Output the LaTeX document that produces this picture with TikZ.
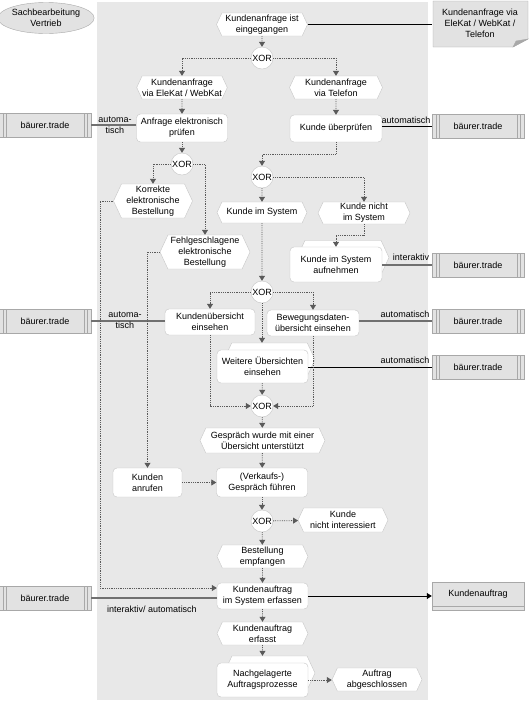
\documentclass[tikz,border=0pt]{standalone}
\usepackage{fontspec}
\setmainfont{Liberation Sans}
\usetikzlibrary{arrows.meta,shapes.geometric,shapes.symbols,calc}

\definecolor{laneGray}{HTML}{E8E8E8}
\definecolor{boxGray}{HTML}{E2E2E2}
\definecolor{rimGray}{HTML}{C6C6C6}
\definecolor{sysRim}{HTML}{A8A8A8}
\definecolor{dotGray}{HTML}{5A5A5A}
\definecolor{assocGray}{HTML}{707070}

\tikzset{
  ev/.style={signal, signal to=east and west, signal pointer angle=130, draw=rimGray,
    fill=white, align=center, inner sep=0pt, minimum width=91pt, minimum height=23pt},
  evbg/.style={ev, minimum height=34pt},
  fn/.style={rectangle, rounded corners=4pt, draw=rimGray, fill=white, align=center,
    inner sep=0pt, minimum width=91pt, minimum height=27pt},
  xor/.style={circle, draw=rimGray, fill=white, inner sep=0pt, minimum size=22pt},
  sysbox/.style={rectangle, draw=sysRim, fill=boxGray, minimum width=92pt, minimum height=24pt,
    path picture={
      \foreach \dx in {4,7}{
        \draw[sysRim] ([xshift=\dx pt]path picture bounding box.north west) -- ([xshift=\dx pt]path picture bounding box.south west);
        \draw[sysRim] ([xshift=-\dx pt]path picture bounding box.north east) -- ([xshift=-\dx pt]path picture bounding box.south east);
      }}},
  lbl/.style={inner sep=0pt, align=center},
  flow/.style={densely dotted, draw=dotGray, line width=0.8pt, -{Triangle[length=5pt,width=6pt]}},
  linkG/.style={draw=assocGray, line width=1.5pt},
  linkB/.style={draw=black, line width=0.6pt},
}

\begin{document}
\begin{tikzpicture}[x=1pt, y=-1pt, font=\fontsize{9}{11}\selectfont]
  \useasboundingbox (0,0) rectangle (530,705);

  %%%%% LANE %%%%%
  \fill[laneGray] (97,2) rectangle (428,700);

  \node[ellipse, draw=sysRim, fill=boxGray, minimum width=90pt, minimum height=31pt, inner sep=0pt, align=center]
    (lane) at (46,18) {Sachbearbeitung\\Vertrieb};

  % input document
  \fill[boxGray] (433,1) -- (528,1) -- (528,39) -- (513,47) -- (433,47) -- cycle;
  \draw[sysRim] (433,1) -- (528,1) -- (528,39) -- (513,47) -- (433,47) -- cycle;
  \filldraw[fill=sysRim, draw=sysRim] (528,39) -- (516,41) -- (513,47) -- cycle;
  \node[lbl, minimum width=95pt, minimum height=46pt] (doc) at (480,23) {Kundenanfrage via\\EleKat / WebKat /\\Telefon};

  %%%%% START %%%%%
  \node[ev] (evStart) at (262,24.5) {Kundenanfrage ist\\eingegangen};
  \node[xor] (xor1) at (262,58) {XOR};

  \node[ev, minimum width=89pt] (evEle) at (182,87.5) {Kundenanfrage\\via EleKat / WebKat};
  \node[ev, minimum width=93pt] (evTel) at (336,87.5) {Kundenanfrage\\via Telefon};

  \node[fn, minimum height=28pt] (fnAnf) at (182,128) {Anfrage elektronisch\\prüfen};
  \node[fn, minimum width=92pt] (fnKpr) at (336,128.5) {Kunde überprüfen};

  \node[sysbox] (sys1) at (45,125) {bäurer.trade};
  \node[sysbox] (sys2) at (478,126) {bäurer.trade};

  \node[xor] (xor2) at (182,164) {XOR};
  \node[xor] (xor3) at (262,177) {XOR};

  \node[ev, minimum width=79pt, minimum height=34pt] (evKorr) at (153,201) {Korrekte\\elektronische\\Bestellung};
  \node[ev, minimum width=90pt, minimum height=21pt] (evKis) at (262,212.5) {Kunde im System};
  \node[ev, minimum width=92pt, minimum height=22pt] (evKnis) at (364,213) {Kunde nicht\\im System};
  \node[ev, minimum width=90pt, minimum height=34pt] (evFehl) at (205,252) {Fehlgeschlagene\\elektronische\\Bestellung};

  \node[evbg, minimum width=92pt] (kisaBg) at (343,257.5) {};
  \node[fn, minimum width=92pt, minimum height=35pt] (fnKisa) at (336,264.5) {Kunde im System\\aufnehmen};
  \node[sysbox] (sys3) at (478,265) {bäurer.trade};

  \node[xor] (xor4) at (262,292) {XOR};

  \node[fn, minimum width=90pt, minimum height=26pt] (fnKue) at (210,322) {Kundenübersicht\\einsehen};
  \node[fn, minimum width=92pt, minimum height=26pt] (fnBew) at (313,323) {Bewegungsdaten-\\übersicht einsehen};
  \node[sysbox] (sys4) at (45,321) {bäurer.trade};
  \node[sysbox] (sys5) at (478,321) {bäurer.trade};

  \node[evbg, minimum height=33pt] (weiBg) at (269.5,359.5) {};
  \node[fn, minimum height=33pt] (fnWei) at (262.5,366.5) {Weitere Übersichten\\einsehen};
  \node[sysbox] (sys6) at (478,367) {bäurer.trade};

  \node[xor] (xor5) at (262,406) {XOR};
  \node[ev, minimum width=125pt, minimum height=25pt] (evGes) at (262.5,440.5) {Gespräch wurde mit einer\\Übersicht unterstützt};

  \node[fn, minimum width=69pt, minimum height=29pt] (fnAnr) at (147.5,482.5) {Kunden\\anrufen};
  \node[fn, minimum height=29pt] (fnGes) at (262,482.5) {(Verkaufs-)\\Gespräch führen};

  \node[xor] (xor6) at (262,521) {XOR};
  \node[ev, minimum width=90pt, minimum height=24pt] (evKni) at (343,520) {Kunde\\nicht interessiert};
  \node[ev] (evBest) at (262.5,556.5) {Bestellung\\empfangen};

  \node[fn, minimum height=26pt] (fnKae) at (262.5,596) {Kundenauftrag\\im System erfassen};
  \node[sysbox] (sys7) at (45,598) {bäurer.trade};
  \node[rectangle, draw=sysRim, fill=boxGray, minimum width=92pt, minimum height=28pt, text depth=6pt,
    path picture={\draw[sysRim] ([yshift=4pt]path picture bounding box.south west) -- ([yshift=4pt]path picture bounding box.south east);}]
    (kauf) at (478,596) {Kundenauftrag};

  \node[ev] (evKer) at (262.5,633.5) {Kundenauftrag\\erfasst};
  \node[evbg] (nachBg) at (269.5,673) {};
  \node[fn, minimum height=34pt] (fnNach) at (262.5,680) {Nachgelagerte\\Auftragsprozesse};
  \node[ev, minimum width=90pt] (evAbg) at (377,679.5) {Auftrag\\abgeschlossen};

  %%%%% LINKS %%%%%
  \draw[linkB] (evStart.east) -- (evStart.east -| doc.west);
  \draw[linkG] (fnAnf.west |- sys1.east) -- (sys1.east);
  \node[lbl] (lblA) at (115,125) {automa-\\tisch};
  \draw[linkB] (fnKpr.east |- sys2.west) -- (sys2.west);
  \node[lbl] (lblB) at (406,120) {automatisch};
  \draw[linkG] (fnKisa.east |- sys3.west) -- (sys3.west);
  \node[lbl] (lblC) at (411,257) {interaktiv};
  \draw[linkG] (fnKue.west |- sys4.east) -- (sys4.east);
  \node[lbl] (lblD) at (125,320) {automa-\\tisch};
  \draw[linkG] (fnBew.east |- sys5.west) -- (sys5.west);
  \node[lbl] (lblE) at (405,314) {automatisch};
  \draw[linkB] (fnWei.east |- sys6.west) -- (sys6.west);
  \node[lbl] (lblF) at (405,360) {automatisch};
  \draw[linkG] (fnKae.west |- sys7.east) -- (sys7.east);
  \node[lbl] (lblG) at (152,609) {interaktiv/ automatisch};
  \draw[linkB, -{Triangle[length=5pt,width=6pt]}] (fnKae.east) -- (fnKae.east -| kauf.west);

  %%%%% FLOW %%%%%
  \draw[flow] (evStart) -- (xor1);
  \draw[flow] (xor1) -| (evEle);
  \draw[flow] (xor1) -| (evTel);
  \draw[flow] (evEle) -- (fnAnf);
  \draw[flow] (evTel) -- (fnKpr);
  \draw[flow] (fnAnf) -- (xor2);
  \draw[flow] (fnKpr.south) -- ++(0,12) -| (xor3);
  \draw[flow] (xor2) -| (evKorr);
  \draw[flow] (xor2) -| (evFehl);
  \draw[flow] (xor3) -- (evKis);
  \draw[flow] (xor3) -| (evKnis);
  \draw[flow] (evKnis.south) -- ++(0,11) -| (fnKisa.north);
  \draw[flow] (evKis) -- (xor4);
  \draw[flow] (xor4) -| (fnKue);
  \draw[flow] (xor4) -| (fnBew);
  \draw[flow] (xor4) -- (xor4 |- weiBg.north);
  \draw[flow] (fnKue) |- (xor5);
  \draw[flow] (fnBew) |- (xor5);
  \draw[flow] (fnWei) -- (xor5);
  \draw[flow] (xor5) -- (evGes);
  \draw[flow] (evGes) -- (fnGes);
  \draw[flow] (evFehl) -| (fnAnr);
  \draw[flow] (fnAnr) -- (fnGes);
  \draw[flow] (fnGes) -- (xor6);
  \draw[flow] (xor6) -- (evKni);
  \draw[flow] (xor6) -- (evBest);
  \draw[flow] (evBest) -- (fnKae);
  \draw[flow] (evKorr.west) -- ++(-13,0) |- ($(fnKae.west)+(0,-8)$);
  \draw[flow] (fnKae) -- (evKer);
  \draw[flow] (evKer) -- (evKer |- nachBg.north);
  \draw[flow] (fnNach.east) -- (fnNach.east -| evAbg.west);
  %%%%% END %%%%%
\end{tikzpicture}
\end{document}
